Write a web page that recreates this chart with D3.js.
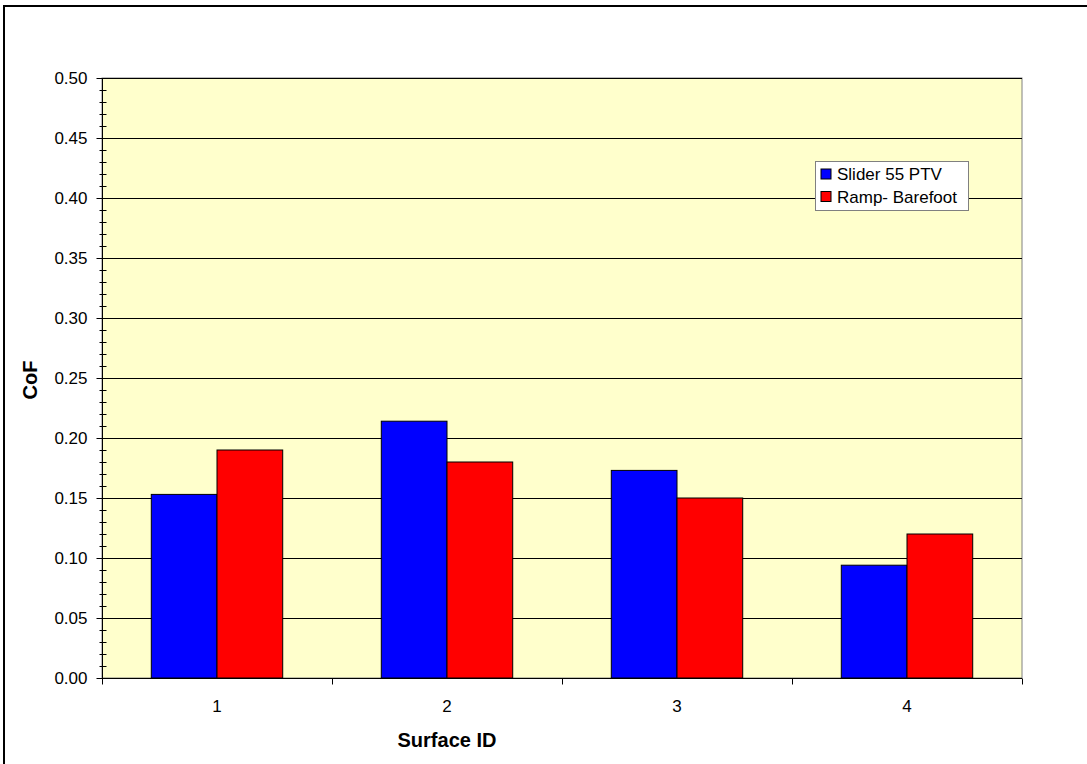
<!DOCTYPE html>
<html>
<head>
<meta charset="utf-8">
<script src="https://cdn.jsdelivr.net/npm/d3@7"></script>
<style>
  html, body { margin: 0; padding: 0; background: #fff; }
  svg { display: block; font-family: Arial, "Liberation Sans", sans-serif; }
</style>
</head>
<body>
<svg id="chart" width="1087" height="764"></svg>
<script>
// Surface IDs and measured coefficients of friction
const categories = ["1", "2", "3", "4"];
const seriesNames = ["Slider 55 PTV", "Ramp- Barefoot"];
const sliderValues = [0.153, 0.214, 0.173, 0.094];
const rampValues = [0.19, 0.18, 0.15, 0.12];
const seriesColors = ["#0000ff", "#ff0000"];
const yTicks = [0, 0.05, 0.10, 0.15, 0.20, 0.25, 0.30, 0.35, 0.40, 0.45, 0.50];

const svg = d3.select("#chart");
const plot = { left: 102, top: 78, right: 1022, bottom: 678 };

// outer chart frame
svg.append("rect")
  .attr("x", 4).attr("y", 6)
  .attr("width", 1100).attr("height", 800)
  .attr("fill", "#fff").attr("stroke", "#000").attr("stroke-width", 2);

const x = d3.scaleBand().domain(categories).range([plot.left, plot.right]).paddingInner(0).paddingOuter(0);
// two bars per group with a 150% gap: bar width = band / 3.5
const barW = x.bandwidth() / 3.5;
const y = d3.scaleLinear().domain([0, 0.5]).range([plot.bottom, plot.top]);

// plot background
svg.append("rect")
  .attr("x", plot.left).attr("y", plot.top)
  .attr("width", plot.right - plot.left).attr("height", plot.bottom - plot.top)
  .attr("fill", "#ffffcc").attr("stroke", "#808080").attr("stroke-width", 1);

// horizontal gridlines
svg.append("g").selectAll("line")
  .data(yTicks.filter(d => d > 0))
  .join("line")
  .attr("x1", plot.left).attr("x2", plot.right)
  .attr("y1", d => Math.round(y(d)) + 0.5).attr("y2", d => Math.round(y(d)) + 0.5)
  .attr("stroke", "#000").attr("stroke-width", 1);

// bars
const data = categories.map((c, i) => ({ cat: c, values: [sliderValues[i], rampValues[i]] }));
const groups = svg.append("g").selectAll("g")
  .data(data)
  .join("g")
  .attr("transform", d => `translate(${x(d.cat) + x.bandwidth() / 2 - barW},0)`);
groups.selectAll("rect")
  .data(d => d.values.map((v, j) => ({ v, j })))
  .join("rect")
  .attr("x", d => d.j * barW)
  .attr("y", d => y(d.v))
  .attr("width", barW)
  .attr("height", d => y(0) - y(d.v))
  .attr("fill", d => seriesColors[d.j])
  .attr("stroke", "#000").attr("stroke-width", 1);

// y axis with major and minor ticks
const yAxis = svg.append("g").attr("transform", `translate(${plot.left + 0.5},0)`);
yAxis.append("line").attr("y1", plot.top).attr("y2", plot.bottom).attr("stroke", "#000");
const minor = d3.range(0, 51).map(i => i / 100).filter(v => Math.round(v * 100) % 5 !== 0);
yAxis.selectAll("line.minor").data(minor).join("line")
  .attr("class", "minor")
  .attr("x1", -3).attr("x2", 4)
  .attr("y1", d => Math.round(y(d)) + 0.5).attr("y2", d => Math.round(y(d)) + 0.5)
  .attr("stroke", "#000");
yAxis.selectAll("line.major").data(yTicks).join("line")
  .attr("class", "major")
  .attr("x1", -6).attr("x2", 0)
  .attr("y1", d => Math.round(y(d)) + 0.5).attr("y2", d => Math.round(y(d)) + 0.5)
  .attr("stroke", "#000");
yAxis.selectAll("text").data(yTicks).join("text")
  .attr("x", -15).attr("y", d => y(d))
  .attr("dy", "0.36em")
  .attr("text-anchor", "end")
  .attr("font-size", 17)
  .text(d => d.toFixed(2));

// x axis
const xAxis = svg.append("g").attr("transform", `translate(0,${plot.bottom + 0.5})`);
xAxis.append("line").attr("x1", plot.left).attr("x2", plot.right).attr("stroke", "#000");
const bounds = categories.map(c => x(c)).concat([plot.right]);
xAxis.selectAll("line.tick").data(bounds).join("line")
  .attr("class", "tick")
  .attr("x1", d => Math.round(d) + 0.5).attr("x2", d => Math.round(d) + 0.5)
  .attr("y1", 0).attr("y2", 6)
  .attr("stroke", "#000");
xAxis.selectAll("text").data(categories).join("text")
  .attr("x", d => x(d) + x.bandwidth() / 2)
  .attr("y", 33)
  .attr("text-anchor", "middle")
  .attr("font-size", 17)
  .text(d => d);

// axis titles
svg.append("text")
  .attr("x", 447).attr("y", 747)
  .attr("text-anchor", "middle")
  .attr("font-size", 20).attr("font-weight", "bold")
  .text("Surface ID");
svg.append("text")
  .attr("transform", "translate(37,380) rotate(-90)")
  .attr("text-anchor", "middle")
  .attr("font-size", 20).attr("font-weight", "bold")
  .text("CoF");

// legend
const legend = svg.append("g").attr("transform", "translate(815.5,161.5)");
legend.append("rect")
  .attr("width", 153).attr("height", 49)
  .attr("fill", "#fff").attr("stroke", "#808080");
seriesNames.forEach((name, i) => {
  const row = legend.append("g").attr("transform", `translate(5.5,${7.5 + i * 22.5})`);
  row.append("rect").attr("width", 10).attr("height", 10)
    .attr("fill", seriesColors[i]).attr("stroke", "#000");
  row.append("text").attr("x", 16).attr("y", 5).attr("dy", "0.36em")
    .attr("font-size", 17).text(name);
});
</script>
</body>
</html>
